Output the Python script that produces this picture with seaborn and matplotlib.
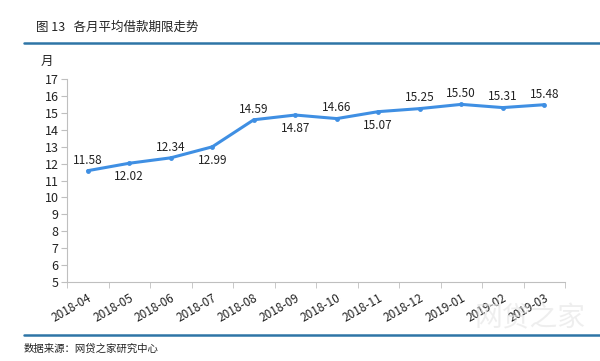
import matplotlib
matplotlib.use("Agg")
import matplotlib.pyplot as plt
import seaborn as sns
import pandas as pd
from matplotlib.ticker import FixedLocator, MultipleLocator

months = ["2018-04", "2018-05", "2018-06", "2018-07", "2018-08", "2018-09",
          "2018-10", "2018-11", "2018-12", "2019-01", "2019-02", "2019-03"]
values = [11.58, 12.02, 12.34, 12.99, 14.59, 14.87, 14.66, 15.07, 15.25, 15.50, 15.31, 15.48]
label_above = [True, False, True, False, True, False, True, False, True, True, True, True]

sns.set_style("white")
plt.rcParams['font.family'] = ['Noto Sans CJK SC', 'DejaVu Sans']

df = pd.DataFrame({"x": list(range(len(months))), "v": values})

fig = plt.figure(figsize=(6.0, 3.61), dpi=100)
ax = fig.add_axes([67/600, 1-282/361, (565-67)/600, (282-79)/361])

sns.lineplot(data=df, x="x", y="v", ax=ax, color="#3f8fe3", linewidth=2.2,
             marker="o", markersize=3.5, markeredgewidth=0)

for i, (v, up) in enumerate(zip(values, label_above)):
    ax.annotate(f"{v:.2f}", (i, v), xytext=(0, 3 if up else -5),
                textcoords="offset points", ha="center",
                va="bottom" if up else "top", fontsize=8.5, color="#222222")

ax.set_xlim(-0.5, len(months) - 0.5)
ax.set_ylim(5, 17)
ax.yaxis.set_major_locator(MultipleLocator(1))
ax.set_xticks(range(len(months)))
ax.set_xticklabels(months, rotation=30, ha="right", rotation_mode="anchor", fontsize=8.5, color="#222222")
ax.xaxis.set_minor_locator(FixedLocator([i - 0.5 for i in range(len(months) + 1)]))
ax.tick_params(axis="x", which="major", length=0, pad=7)
ax.tick_params(axis="x", which="minor", length=4, color="#bfbfbf", direction="out", bottom=True)
ax.tick_params(axis="y", length=4, color="#bfbfbf", direction="out", left=True, labelsize=9, labelcolor="#222222", pad=2)
for s in ["top", "right"]:
    ax.spines[s].set_visible(False)
for s in ["left", "bottom"]:
    ax.spines[s].set_color("#bfbfbf")
    ax.spines[s].set_linewidth(0.8)
ax.set_xlabel("")
ax.set_ylabel("")

fig.text(47/600, 1-61/361, "月", fontsize=9, ha="center", va="center", color="#222222")
fig.text(36/600, 1-27/361, "图 13   各月平均借款期限走势", fontsize=9, ha="left", va="center", color="#222222")
fig.add_artist(plt.Line2D([24/600, 1.0], [1-43/361, 1-43/361], color="#2e75a6", linewidth=1.8))
fig.add_artist(plt.Line2D([24/600, 1.0], [1-335/361, 1-335/361], color="#2e75a6", linewidth=1.8))
fig.text(24/600, 1-349/361, "数据来源：网贷之家研究中心", fontsize=7.5, ha="left", va="center", color="#222222")
fig.text(530/600, 1-318/361, "网贷之家", fontsize=20, ha="center", va="center", color="#e4e4e4", alpha=0.6)

fig.savefig("out.png", dpi=100)
